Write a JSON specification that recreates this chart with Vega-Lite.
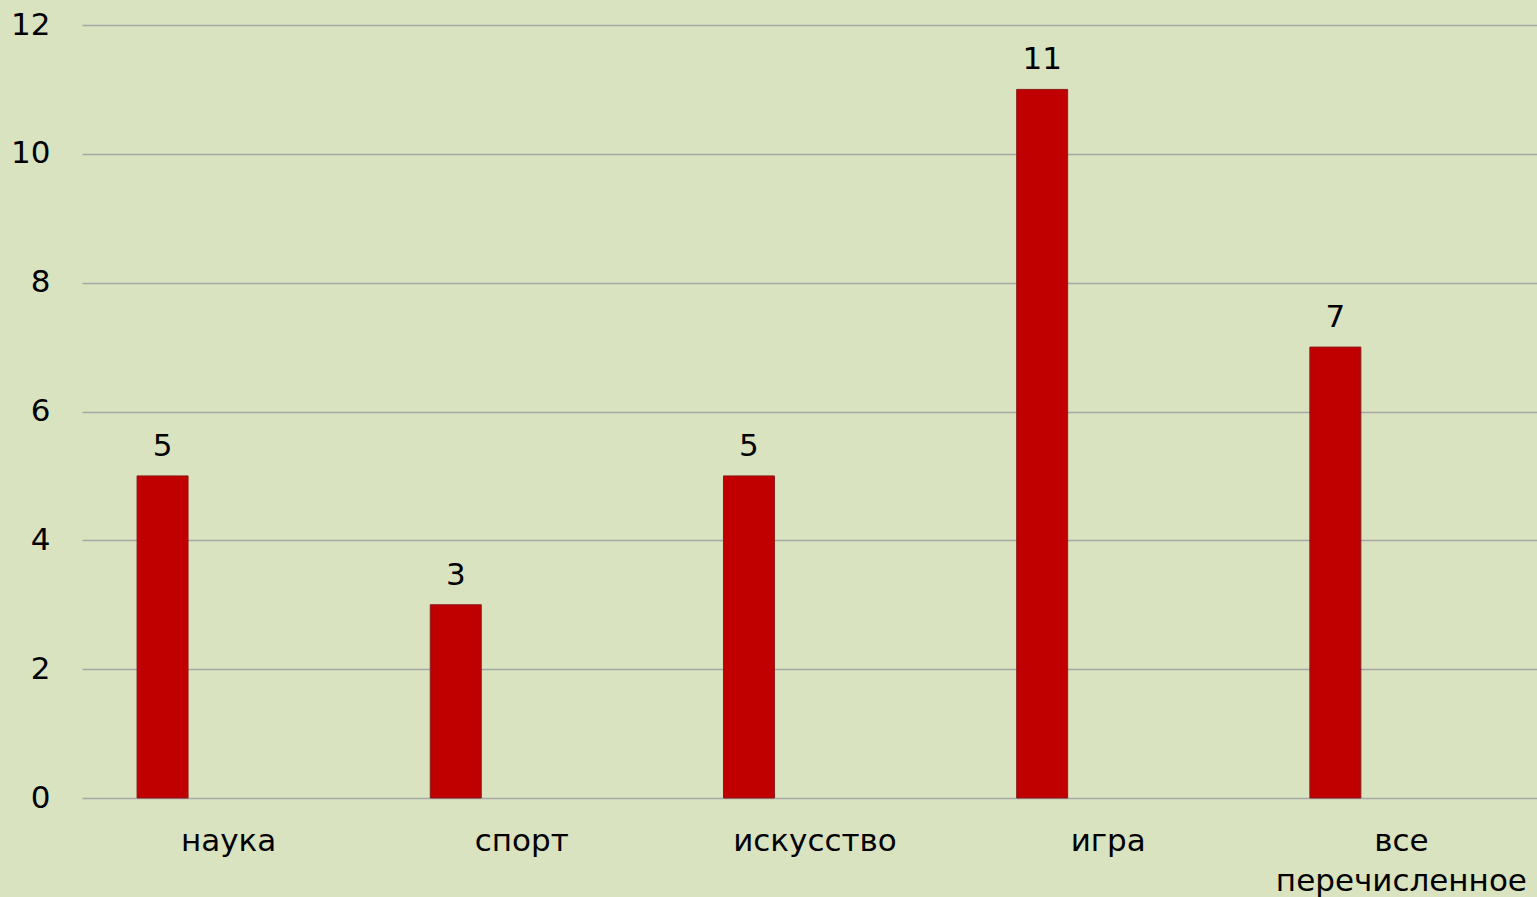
{
  "$schema": "https://vega.github.io/schema/vega-lite/v6.json",
  "width": 1456,
  "height": 773,
  "autosize": {"type": "none"},
  "padding": {"left": 81, "top": 25, "right": 0, "bottom": 99},
  "background": "#D9E3C0",
  "config": {"view": {"stroke": null}, "font": "DejaVu Sans"},
  "data": {
    "values": [
      {"category": "наука", "value": 5, "series": "a"},
      {"category": "спорт", "value": 3, "series": "a"},
      {"category": "искусство", "value": 5, "series": "a"},
      {"category": "игра", "value": 11, "series": "a"},
      {"category": "все перечисленное", "value": 7, "series": "a"}
    ]
  },
  "encoding": {
    "x": {
      "field": "category",
      "type": "nominal",
      "sort": null,
      "scale": {"range": [1, 1467], "paddingInner": 0, "paddingOuter": 0},
      "axis": {
        "title": null,
        "ticks": false,
        "domain": false,
        "labelAngle": 0,
        "labelFontSize": 31,
        "labelColor": "#000000",
        "labelPadding": 28,
        "labelLineHeight": 40,
        "labelLimit": 0,
        "labelExpr": "split(datum.label, ' ')"
      }
    },
    "xOffset": {
      "field": "series",
      "type": "nominal",
      "scale": {"domain": ["a", "b"], "paddingInner": 0.614, "paddingOuter": 0.417}
    },
    "y": {
      "field": "value",
      "type": "quantitative",
      "scale": {"domain": [0, 12], "nice": false},
      "axis": {
        "title": null,
        "values": [0, 2, 4, 6, 8, 10, 12],
        "ticks": false,
        "domain": false,
        "labelFontSize": 31,
        "labelColor": "#000000",
        "labelPadding": 31,
        "gridColor": "#A6A6A6",
        "gridWidth": 1.5
      }
    }
  },
  "layer": [
    {"mark": {"type": "bar", "color": "#C00000", "stroke": "#8A1a1a", "strokeWidth": 1}},
    {
      "mark": {"type": "text", "baseline": "alphabetic", "dy": -20, "fontSize": 31, "color": "#000000"},
      "encoding": {"text": {"field": "value", "type": "quantitative"}}
    }
  ]
}
